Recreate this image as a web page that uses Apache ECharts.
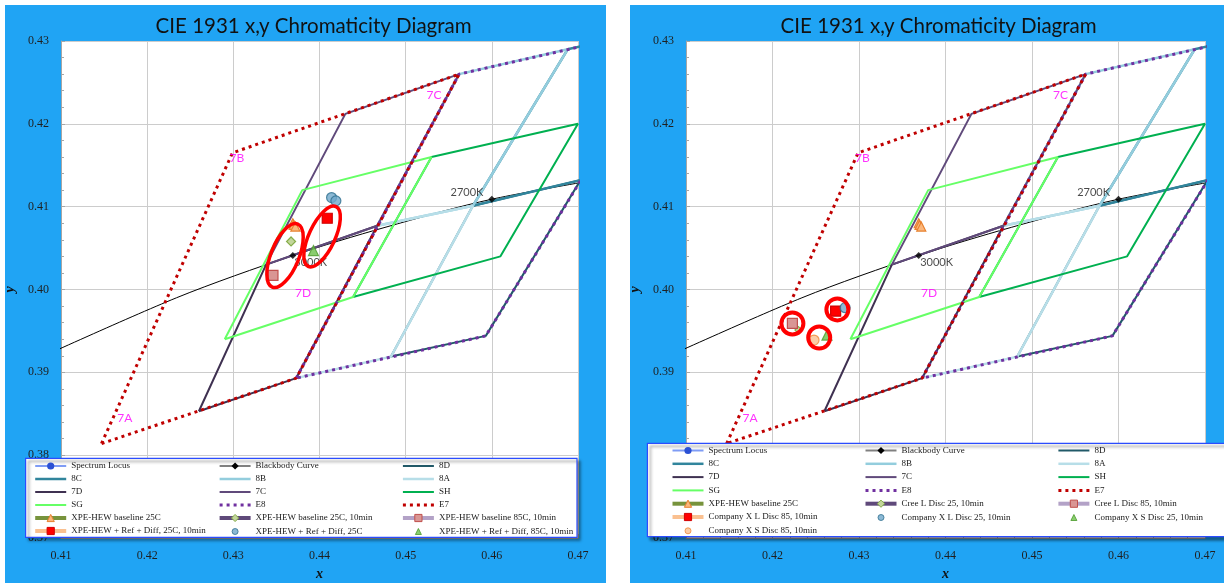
<!DOCTYPE html>
<html>
<head>
<meta charset="utf-8">
<title>CIE 1931 x,y Chromaticity Diagram</title>
<script src="https://cdn.jsdelivr.net/npm/echarts@6.0.0/dist/echarts.min.js"></script>
<style>
  html, body { margin: 0; padding: 0; background: #fff; }
  .panel { position: absolute; top: 5px; height: 578px; background: #20a4f4; }
  #leftChart { left: 5px; width: 601px; }
  #rightChart { left: 630px; width: 594px; }
</style>
</head>
<body>
<div id="leftChart" class="panel"></div>
<div id="rightChart" class="panel"></div>
<script>
var chartTitle = 'CIE 1931 x,y Chromaticity Diagram';

// axis window and tick step
var axisX = [0.41, 0.47];
var axisY = [0.37, 0.43];
var tickStep = 0.01;

// spectrum locus (lies outside this zoomed window)
var spectrumLocus = [[0.4441, 0.5547], [0.4788, 0.5202]];

// planckian locus and the two marked CCT points
var blackbodyCurve = [[0.4053, 0.3907], [0.4234, 0.3990], [0.4369, 0.4041], [0.4476, 0.4075], [0.4600, 0.4109], [0.4770, 0.4141]];
var cctPoints = [[0.4369, 0.4041], [0.4600, 0.4109]];
var cctNames = ['3000K', '2700K'];

// bin quadrangles, closed
var bin8D = [[0.4483, 0.3919], [0.4578, 0.4101], [0.4703, 0.4132], [0.4593, 0.3944], [0.4483, 0.3919]];
var bin8C = [[0.4578, 0.4101], [0.4688, 0.4290], [0.4813, 0.4319], [0.4703, 0.4132], [0.4578, 0.4101]];
var bin8B = [[0.4467, 0.4077], [0.4562, 0.4260], [0.4688, 0.4290], [0.4578, 0.4101], [0.4467, 0.4077]];
var bin8A = [[0.4373, 0.3893], [0.4467, 0.4077], [0.4578, 0.4101], [0.4483, 0.3919], [0.4373, 0.3893]];
var bin7D = [[0.4260, 0.3853], [0.4338, 0.4030], [0.4467, 0.4077], [0.4373, 0.3893], [0.4260, 0.3853]];
var bin7C = [[0.4338, 0.4030], [0.4430, 0.4212], [0.4562, 0.4260], [0.4467, 0.4077], [0.4338, 0.4030]];
var binSH = [[0.4439, 0.3991], [0.4530, 0.4160], [0.4700, 0.4200], [0.4610, 0.4040], [0.4439, 0.3991]];
var binSG = [[0.4290, 0.3940], [0.4380, 0.4120], [0.4530, 0.4160], [0.4439, 0.3991], [0.4290, 0.3940]];
var binE8 = [[0.4373, 0.3893], [0.4562, 0.4260], [0.4813, 0.4319], [0.4593, 0.3944], [0.4373, 0.3893]];
var binE7 = [[0.4147, 0.3814], [0.4299, 0.4165], [0.4562, 0.4260], [0.4373, 0.3893], [0.4147, 0.3814]];

var binTags = ['7A', '7B', '7C', '7D'];
var binTagPos = [[0.4174, 0.3845], [0.4304, 0.4158], [0.4533, 0.4235], [0.4381, 0.3996]];

// left chart measurements
var xpeBase25 = [[0.4369, 0.4080], [0.4370, 0.4078], [0.4372, 0.4076]];
var xpeBase25m10 = [[0.4367, 0.4058]];
var xpeBase85m10 = [[0.4346, 0.4017]];
var xpeRef25m10 = [[0.4409, 0.4086]];
var xpeRef25 = [[0.4414, 0.4111], [0.4419, 0.4107]];
var xpeRef85m10 = [[0.4393, 0.4047]];

// right chart measurements
var creeL25 = [[0.4230, 0.3951]];
var creeL85 = [[0.4223, 0.3959]];
var coXL85 = [[0.4273, 0.3974]];
var coXL25 = [[0.4284, 0.3978]];
var coXS25 = [[0.4263, 0.3945]];
var coXS85 = [[0.4248, 0.3939]];

// red hand markings
var leftRings = [[0.4360, 0.4041], [0.4403, 0.4064]];
var rightRings = [[0.4223, 0.3959], [0.4254, 0.3942], [0.4275, 0.3976]];

var SERIF = '"Liberation Serif", "Times New Roman", serif';
var SANS = 'Lato, "Open Sans", sans-serif';

// small legend glyphs for marker-only series (the two lone moves fix the 31x9 box)
var legendGlyph = {
  circle: 'path://M0,0M31,9M18.5,4.5A3,3,0,1,1,12.5,4.5A3,3,0,1,1,18.5,4.5Z',
  triangle: 'path://M0,0M31,9M15.5,1.5L18.5,7.5L12.5,7.5Z'
};

function bin(name, data, color, width, dash) {
  return {
    name: name, type: 'line', data: data, symbol: 'none', silent: true,
    lineStyle: {color: color, width: width, type: dash || 'solid'},
    itemStyle: {color: color}
  };
}

function marker(name, kind, data, symbol, size, fill, border, lineColor) {
  var s = {
    name: name, type: kind, data: data, symbol: symbol, symbolSize: size, z: 5,
    itemStyle: {color: fill, borderColor: border, borderWidth: 1.2}
  };
  if (kind === 'line') {
    s.showSymbol = true;
    s.lineStyle = {color: lineColor, width: 4};
  }
  return s;
}

function commonSeries() {
  return [
    {name: 'Spectrum Locus', type: 'line', data: spectrumLocus, symbol: 'circle', symbolSize: 5,
      lineStyle: {color: '#7f9cf5', width: 2}, itemStyle: {color: '#2b50d4'}},
    {name: 'Blackbody Curve', type: 'line', data: blackbodyCurve, smooth: 0.3, symbol: 'diamond', showSymbol: false,
      lineStyle: {color: '#000', width: 1}, itemStyle: {color: '#000'}},
    bin('8D', bin8D, '#215968', 2),
    bin('8C', bin8C, '#31859c', 2.5),
    bin('8B', bin8B, '#93cddd', 2.5),
    bin('8A', bin8A, '#b7dee8', 2.5),
    bin('7D', bin7D, '#3f3151', 2),
    bin('7C', bin7C, '#604a7b', 2),
    bin('SH', binSH, '#00b050', 2),
    bin('SG', binSG, '#66ff66', 2),
    bin('E8', binE8, '#7030a0', 3, [3, 4]),
    bin('E7', binE7, '#c00000', 3, [3, 4]),
    {name: '_cct', type: 'scatter', symbol: 'diamond', symbolSize: 7, z: 4,
      itemStyle: {color: '#000'},
      label: {show: true, formatter: '{b}', fontFamily: SANS, fontSize: 11, color: '#1a1a1a'},
      data: cctPoints.map(function (p, i) {
        return {name: cctNames[i], value: p,
          label: i === 0 ? {position: 'right', offset: [-7, 7]} : {position: 'left', offset: [0, -7]}};
      })},
    {name: '_tags', type: 'scatter', symbolSize: 1, z: 4,
      itemStyle: {color: 'rgba(0,0,0,0)'},
      label: {show: true, position: 'inside', formatter: '{b}', fontFamily: SANS, fontSize: 12, color: '#ff00ff'},
      data: binTags.map(function (t, i) { return {name: t, value: binTagPos[i]}; })}
  ];
}

function legendItem(s) {
  var it = {name: s.name};
  if (s.type === 'line') {
    it.lineStyle = {width: s.lineStyle.width < 2 ? 2 : s.lineStyle.width};
    if (s.name === 'Blackbody Curve') it.lineStyle.color = '#808080';
    if (s.symbol === 'none') it.itemStyle = {opacity: 0};
  } else if (legendGlyph[s.symbol]) {
    it.icon = legendGlyph[s.symbol];
  }
  return it;
}

function axis(name, range, vertical) {
  return {
    type: 'value', min: range[0], max: range[1], interval: tickStep,
    name: name, nameLocation: 'middle', nameGap: vertical ? 35 : 28, nameRotate: vertical ? 90 : 0,
    nameTextStyle: {fontFamily: SERIF, fontSize: 14, fontWeight: 'bold', fontStyle: 'italic', color: '#111'},
    axisLine: {show: true, lineStyle: {color: '#a6a6a6', width: 1}},
    axisTick: {show: true, inside: true, length: 4, lineStyle: {color: '#a6a6a6'}},
    minorTick: {show: true, splitNumber: 5, length: 3, lineStyle: {color: '#a6a6a6'}},
    splitLine: {show: true, lineStyle: {color: '#cccccc', width: 1}},
    axisLabel: {margin: 12, fontFamily: SERIF, fontSize: 12, color: '#1f1f1f',
      showMinLabel: true, showMaxLabel: true,
      formatter: function (v) { return v.toFixed(2); }}
  };
}

function buildPanel(domId, markerSeries, layout) {
  var chart = echarts.init(document.getElementById(domId));
  var series = commonSeries().concat(markerSeries);
  var shown = series.filter(function (s) { return s.name.charAt(0) !== '_'; });
  var cols = [[], [], []];
  shown.forEach(function (s, i) { cols[i % 3].push(legendItem(s)); });

  chart.setOption({
    animation: false,
    grid: {left: layout.gridLeft, top: 36, width: layout.gridWidth, height: 497,
      show: true, backgroundColor: '#fff', borderWidth: 0, containLabel: false, outerBoundsMode: 'none'},
    xAxis: axis('x', axisX, false),
    yAxis: axis('y', axisY, true),
    legend: cols.map(function (col, k) {
      return {
        orient: 'vertical', left: layout.legendCols[k], top: layout.legendTop,
        itemGap: layout.legendGap, itemWidth: 31, itemHeight: 9, padding: 0,
        selectedMode: false, z: 20, data: col,
        textStyle: {fontFamily: SERIF, fontSize: 9, color: '#1a1a1a'},
        itemStyle: {borderWidth: 1}
      };
    }),
    series: series
  });

  var els = [
    {type: 'text', x: 308.6, y: 21, z: 30,
      style: {text: chartTitle, fontFamily: 'Lato', fontSize: 20.5, fill: '#111', align: 'center', verticalAlign: 'middle'}},
    {type: 'rect', z: 10, shape: layout.box,
      style: {fill: '#fff', stroke: '#2b4cff', lineWidth: 1.2,
        shadowBlur: 3, shadowOffsetX: 3, shadowOffsetY: 3, shadowColor: 'rgba(0,0,0,0.45)'}}
  ];
  layout.rings.forEach(function (c, i) {
    var p = chart.convertToPixel({gridIndex: 0}, c);
    var r = layout.ringSize[i];
    els.push({type: 'ellipse', x: p[0], y: p[1], z: 15,
      rotation: -layout.ringTilt[i] * Math.PI / 180,
      shape: {cx: 0, cy: 0, rx: r[0], ry: r[1]},
      style: {fill: 'none', stroke: '#ff0000', lineWidth: layout.ringWidth}});
  });
  chart.setOption({graphic: {elements: els}});
  return chart;
}

buildPanel('leftChart', [
  marker('XPE-HEW baseline 25C', 'line', xpeBase25, 'triangle', 9, '#fbb77c', '#e8812f', '#77933c'),
  marker('XPE-HEW baseline 25C, 10min', 'line', xpeBase25m10, 'diamond', 9, '#c3d69b', '#86ad4a', '#5f497a'),
  marker('XPE-HEW baseline 85C, 10min', 'line', xpeBase85m10, 'rect', 10, '#d99694', '#c0504d', '#b3a2c7'),
  marker('XPE-HEW + Ref + Diff, 25C, 10min', 'line', xpeRef25m10, 'rect', 10, '#ff0000', '#d00000', '#fac090'),
  marker('XPE-HEW + Ref + Diff, 25C', 'scatter', xpeRef25, 'circle', 10, '#6fa8cb', '#2f6f8f'),
  marker('XPE-HEW + Ref + Diff, 85C, 10min', 'scatter', xpeRef85m10, 'triangle', 10, '#6cc04a', '#4a9a2a')
], {
  gridLeft: 56, gridWidth: 517,
  legendCols: [28.2, 212.6, 395.9], legendTop: 456.5, legendGap: 4,
  box: {x: 20.6, y: 453.3, width: 551.4, height: 79},
  rings: leftRings, ringSize: [[14, 34], [13, 33]], ringTilt: [22, 25], ringWidth: 3.5
});

buildPanel('rightChart', [
  marker('XPE-HEW baseline 25C', 'line', xpeBase25, 'triangle', 9, '#fbb77c', '#e8812f', '#77933c'),
  marker('Cree L Disc 25, 10min', 'line', creeL25, 'diamond', 7, '#c3d69b', '#86ad4a', '#5f497a'),
  marker('Cree L Disc 85, 10min', 'line', creeL85, 'rect', 10, '#d99694', '#c0504d', '#b3a2c7'),
  marker('Company X L Disc 85, 10min', 'line', coXL85, 'rect', 10, '#ff0000', '#d00000', '#fac090'),
  marker('Company X L Disc 25, 10min', 'scatter', coXL25, 'circle', 10, '#6fa8cb', '#2f6f8f'),
  marker('Company X S Disc 25, 10min', 'scatter', coXS25, 'triangle', 10, '#6cc04a', '#4a9a2a'),
  marker('Company X S Disc 85, 10min', 'scatter', coXS85, 'circle', 10, '#fac090', '#f0883a')
], {
  gridLeft: 56, gridWidth: 519,
  legendCols: [40.5, 233.5, 426.4], legendTop: 441, legendGap: 4.3,
  box: {x: 17.4, y: 438.3, width: 600, height: 93.4},
  rings: rightRings, ringSize: [[11, 11], [11, 11], [11, 11]], ringTilt: [0, 0, 0], ringWidth: 4
});
</script>
</body>
</html>
